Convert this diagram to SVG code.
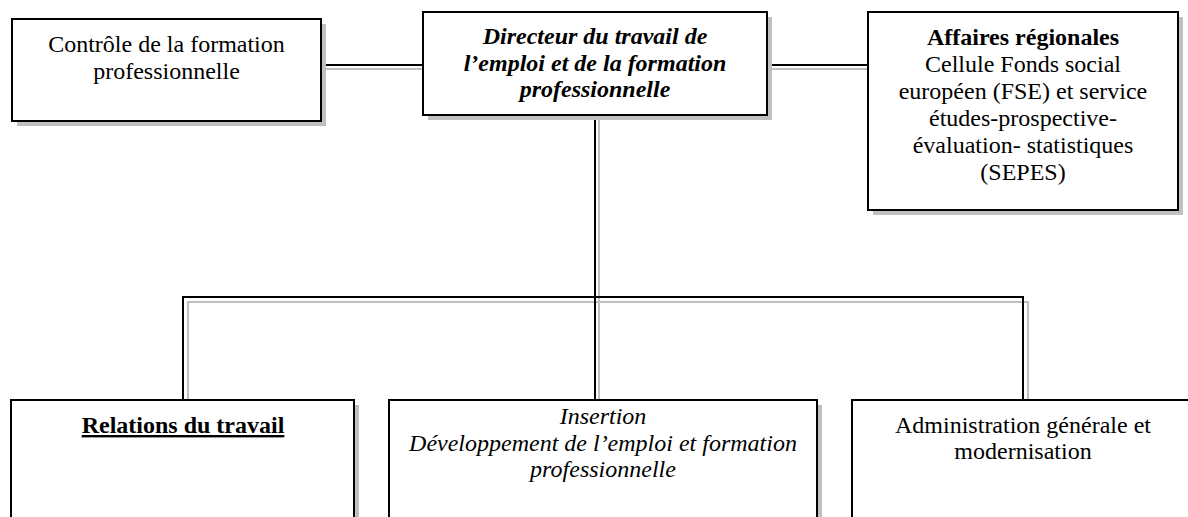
<svg xmlns="http://www.w3.org/2000/svg" width="1188" height="517" viewBox="0 0 1188 517">
<style>
  .box{fill:#fff;stroke:#000;stroke-width:2}
  .shadow{fill:#c0c0c0;stroke:none}
  .ln{fill:none;stroke:#000;stroke-width:2}
  .lg{fill:none;stroke:#c0c0c0;stroke-width:2}
  text{font-family:"Liberation Serif","Times New Roman",serif;font-size:24px;fill:#000;text-anchor:middle}
  .b{font-weight:bold}
  .i{font-style:italic}
</style>
<rect width="1188" height="517" fill="#fff"/>
<g id="connectors">
  <line class="lg" x1="326" y1="69" x2="423" y2="69"/>
  <line class="ln" x1="321" y1="65" x2="423" y2="65"/>
  <line class="lg" x1="772" y1="69" x2="868" y2="69"/>
  <line class="ln" x1="767" y1="65" x2="868" y2="65"/>
  <polyline class="lg" points="188,400 188,302 1028,302 1028,400"/>
  <line class="lg" x1="599" y1="120" x2="599" y2="400"/>
  <polyline class="ln" points="183,400 183,297 1023,297 1023,400"/>
  <line class="ln" x1="595" y1="115" x2="595" y2="400"/>
</g>
<g id="controle">
  <rect class="shadow" x="17" y="24" width="309" height="102"/>
  <rect class="box" x="12" y="19" width="309" height="102"/>
  <text x="166.5" y="52">Contrôle de la formation</text>
  <text x="166.5" y="79">professionnelle</text>
</g>
<g id="directeur">
  <rect class="shadow" x="428" y="17" width="344" height="103"/>
  <rect class="box" x="423" y="12" width="344" height="103"/>
  <text class="b i" x="595" y="44">Directeur du travail de</text>
  <text class="b i" x="595" y="71">l’emploi et de la formation</text>
  <text class="b i" x="595" y="97">professionnelle</text>
</g>
<g id="affaires">
  <rect class="shadow" x="873" y="17" width="310" height="198"/>
  <rect class="box" x="868" y="12" width="310" height="198"/>
  <text class="b" x="1023" y="45">Affaires régionales</text>
  <text x="1023" y="72">Cellule Fonds social</text>
  <text x="1023" y="99">européen (FSE) et service</text>
  <text x="1023" y="126">études-prospective-</text>
  <text x="1023" y="153">évaluation- statistiques</text>
  <text x="1023" y="180">(SEPES)</text>
</g>
<g id="relations">
  <rect class="shadow" x="16" y="405" width="343" height="140"/>
  <rect class="box" x="11" y="400" width="343" height="140"/>
  <text class="b" x="183" y="433" text-decoration="underline">Relations du travail</text>
</g>
<g id="insertion">
  <rect class="shadow" x="394" y="405" width="428" height="140"/>
  <rect class="box" x="389" y="400" width="428" height="140"/>
  <text class="i" x="603" y="424">Insertion</text>
  <text class="i" x="603" y="451">Développement de l’emploi et formation</text>
  <text class="i" x="603" y="477">professionnelle</text>
</g>
<g id="administration">
  <rect class="shadow" x="857" y="405" width="360" height="140"/>
  <rect class="box" x="852" y="400" width="360" height="140"/>
  <text x="1023" y="433">Administration générale et</text>
  <text x="1023" y="459">modernisation</text>
</g>
</svg>
